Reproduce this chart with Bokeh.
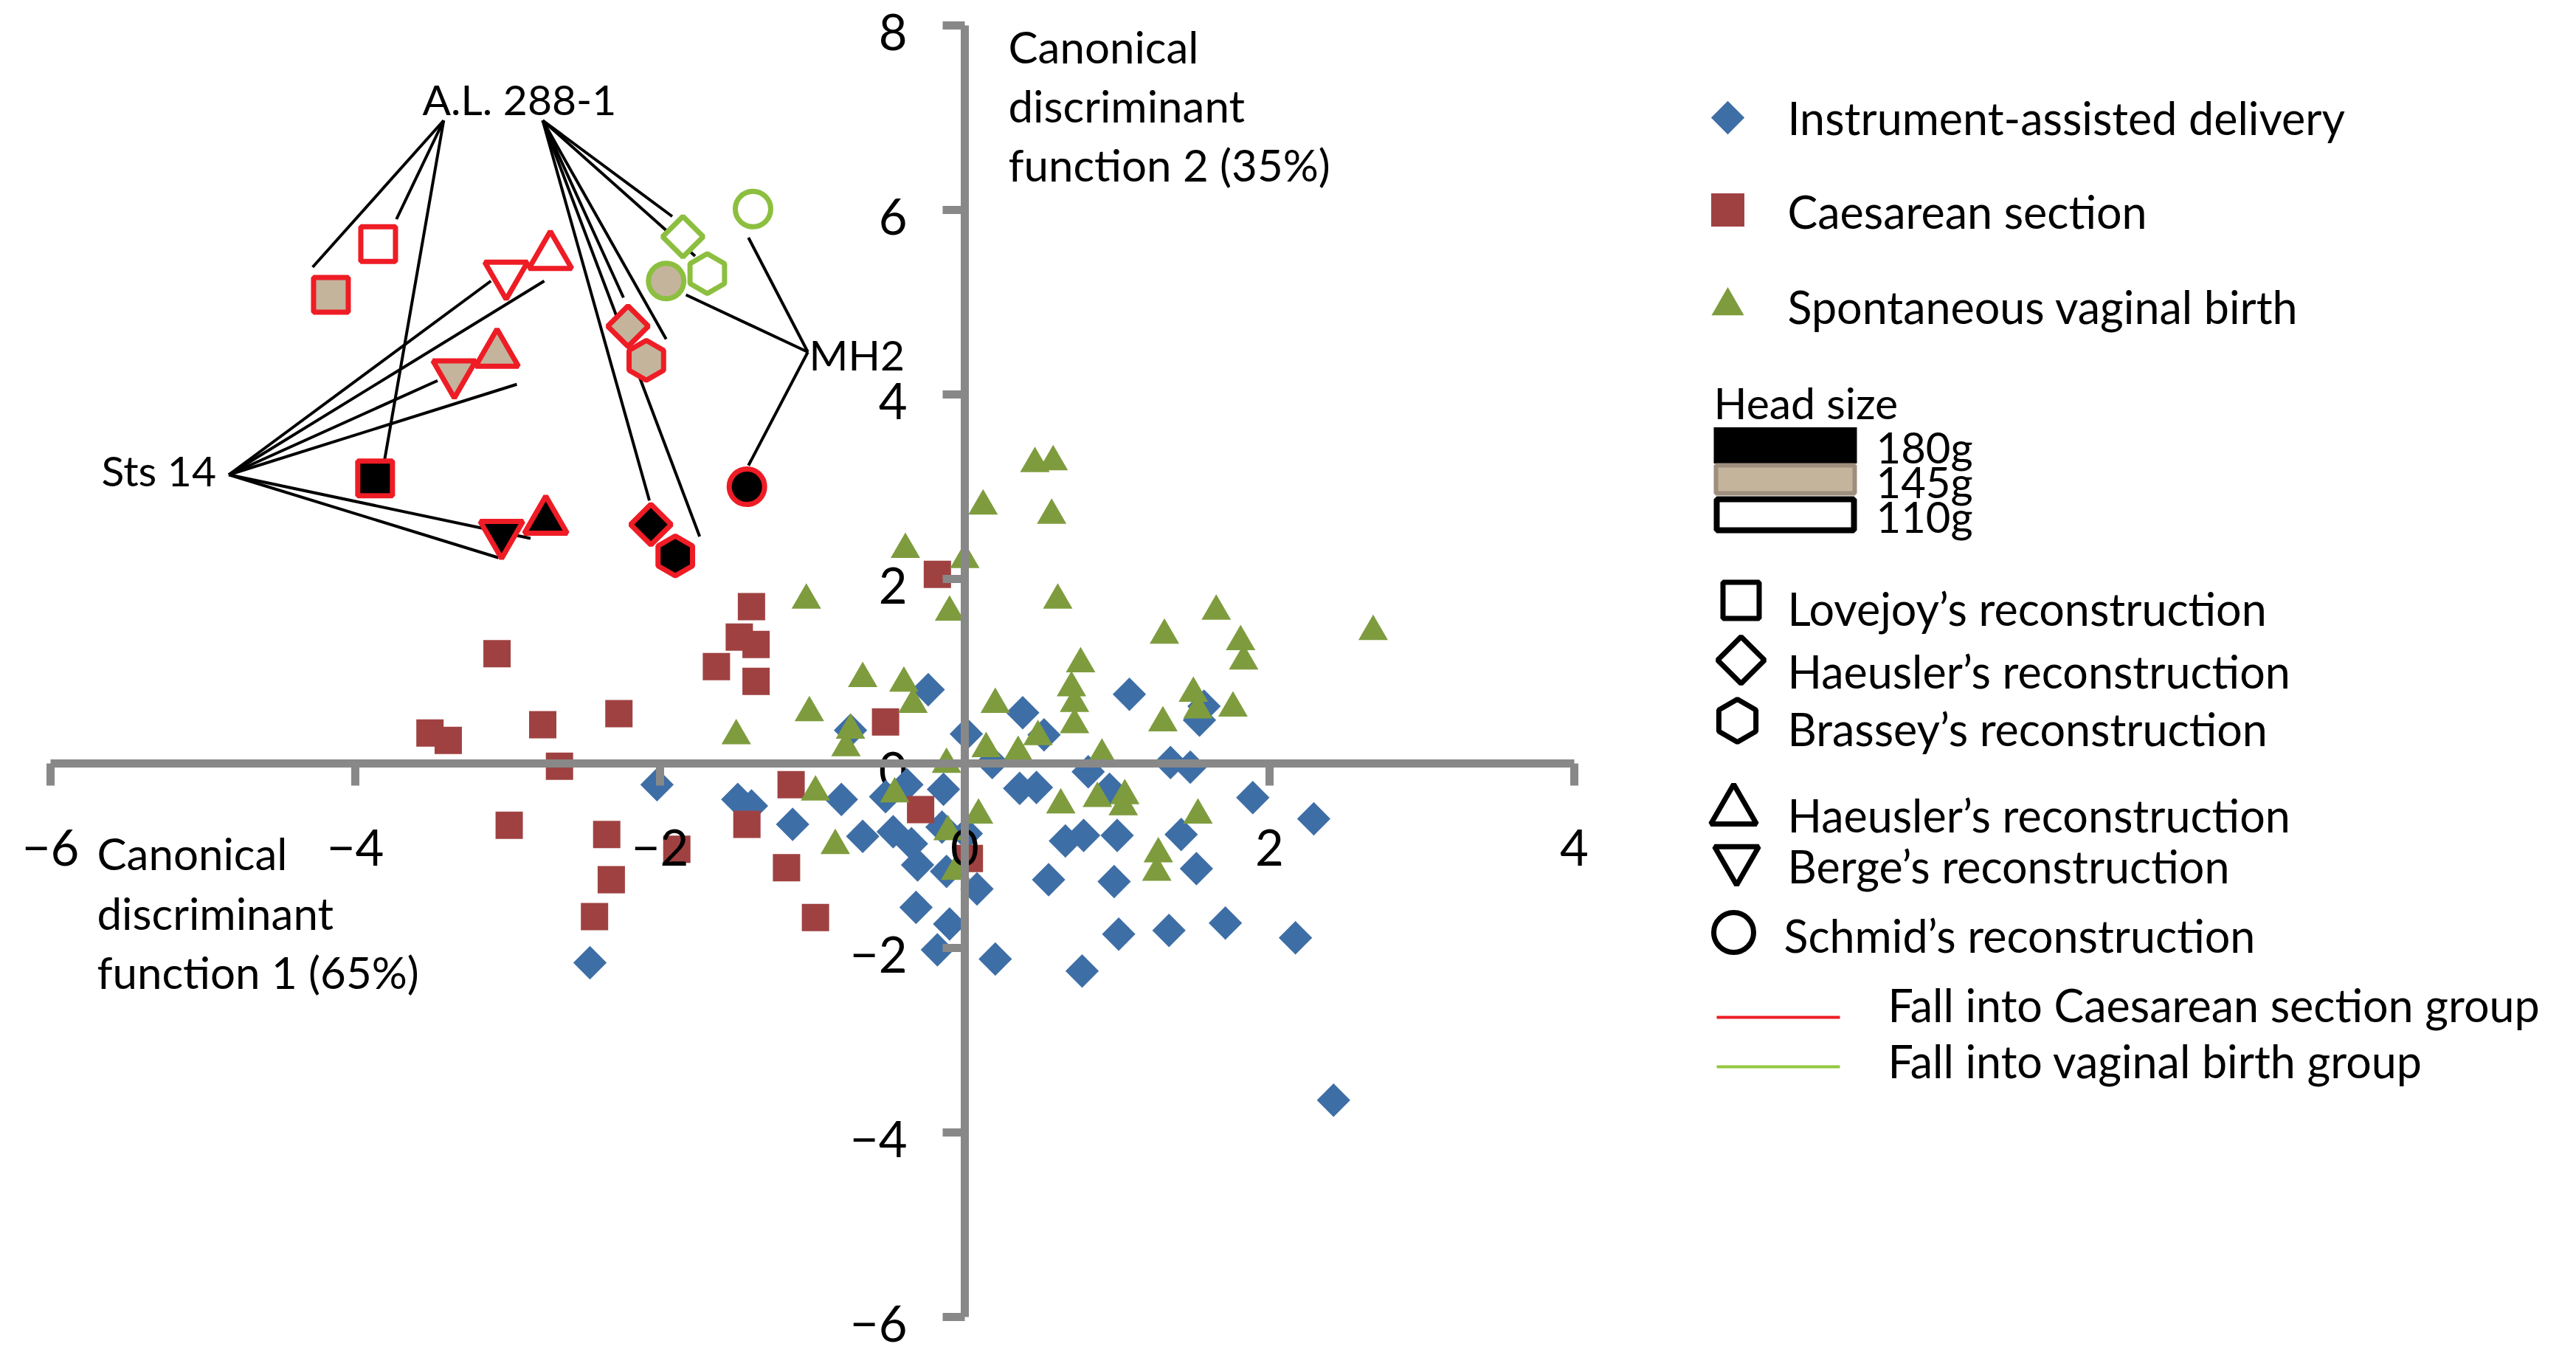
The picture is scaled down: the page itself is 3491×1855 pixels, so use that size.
from bokeh.plotting import figure
from bokeh.models import LinearAxis, FixedTicker, Range1d, ColumnDataSource
from bokeh.embed import file_html
from bokeh.resources import INLINE
from bokeh.core.properties import value
import math

# ---------------- data ----------------
# Instrument-assisted delivery (blue diamonds)
inst_x = [-2.02, -2.46, -0.24, -0.75, 0.01, 0.38, 0.52, 0.18, 0.36, 0.47, -0.14, -0.38, -0.52,
          -0.81, -1.49, -1.40, -1.13, -0.67, -0.47, -0.35, -0.31, -0.15, -0.12, 0.08, 0.01, 0.66,
          0.55, -0.32, -0.10, -0.18, 0.20, 1.08, 1.54, 1.57, 0.81, 1.35, 1.48, 0.95, 1.89, 2.29,
          0.78, 1.00, 1.42, 1.52, 0.98, 1.01, 1.34, 1.71, 2.17, 0.77, 2.42]
inst_y = [-0.23, -2.16, 0.80, 0.36, 0.32, 0.55, 0.31, 0.01, -0.27, -0.26, -0.28, -0.23, -0.36,
          -0.39, -0.39, -0.46, -0.66, -0.79, -0.74, -0.87, -1.10, -0.69, -1.17, -1.36, -0.76, -0.84,
          -1.26, -1.56, -1.74, -2.02, -2.12, 0.75, 0.47, 0.62, -0.09, 0.01, -0.04, -0.28, -0.37, -0.60,
          -0.78, -0.78, -0.77, -1.14, -1.28, -1.85, -1.81, -1.73, -1.89, -2.25, -3.65]

# Caesarean section (red squares)
caes_x = [-3.07, -3.51, -3.39, -2.77, -2.27, -2.66, -2.99, -2.35, -1.89, -2.32, -2.43, -0.18,
          -1.40, -1.48, -1.37, -1.63, -1.37, -0.52, -1.14, -1.43, -0.29, -1.17, -0.98, 0.03]
caes_y = [1.19, 0.33, 0.25, 0.42, 0.54, -0.03, -0.67, -0.77, -0.93, -1.26, -1.66, 2.05,
          1.70, 1.37, 1.29, 1.05, 0.89, 0.45, -0.23, -0.66, -0.50, -1.13, -1.67, -1.03]

# Spontaneous vaginal birth (green triangles)
spon_x = [0.46, 0.58, 0.12, 0.57, -0.39, 0.00, -1.04, -0.10, 0.61, -0.67, -0.40, -0.34, -1.02,
          -1.50, -0.75, -0.78, 0.20, 0.14, 0.35, 0.48, -0.12, -0.98, -0.46, 1.65, 1.31, 1.81,
          1.83, 2.68, 0.76, 0.70, 0.72, 0.72, 1.50, 1.53, 1.30, 1.76, 0.90, -0.85, -0.11, 0.09,
          -0.06, 0.63, 0.87, 1.05, 1.04, 1.53, 1.27, 1.26]
spon_y = [3.25, 3.27, 2.79, 2.69, 2.32, 2.21, 1.77, 1.64, 1.77, 0.92, 0.87, 0.64, 0.55,
          0.30, 0.36, 0.17, 0.64, 0.16, 0.12, 0.29, -0.01, -0.31, -0.33, 1.65, 1.39, 1.32,
          1.11, 1.43, 1.08, 0.82, 0.65, 0.42, 0.76, 0.58, 0.44, 0.60, 0.09, -0.89, -0.74, -0.56,
          -1.17, -0.45, -0.38, -0.35, -0.47, -0.56, -0.98, -1.18]

# Fossil pelvis reconstructions
spec_recon = (["Lovejoy"] * 3 + ["Haeusler AL"] * 3 + ["Brassey"] * 3 +
              ["Haeusler Sts"] * 3 + ["Berge"] * 3 + ["Schmid"] * 3)
spec_head = [110, 145, 180] * 6
spec_x = [-3.85, -4.16, -3.87, -1.85, -2.21, -2.06, -1.69, -2.09, -1.90,
          -2.72, -3.07, -2.75, -3.01, -3.35, -3.04, -1.39, -1.96, -1.43]
spec_y = [5.63, 5.08, 3.09, 5.71, 4.74, 2.59, 5.31, 4.37, 2.25,
          5.50, 4.44, 2.63, 5.30, 4.23, 2.49, 6.01, 5.23, 3.00]
spec_group = ["C", "C", "C", "V", "C", "C", "V", "C", "C",
              "C", "C", "C", "C", "C", "C", "V", "V", "C"]

# Leader lines from specimen labels (data units)
lead_x0 = [-3.42] * 3 + [-2.77] * 6 + [-4.83] * 6 + [-1.03] * 3
lead_y0 = [6.97] * 3 + [6.97] * 6 + [3.13] * 6 + [4.46] * 3
lead_x1 = [-4.28, -3.73, -3.81, -1.92, -1.77, -2.24, -1.96, -2.07, -1.74,
           -3.11, -2.76, -3.46, -2.94, -2.85, -3.06, -1.42, -1.83, -1.42]
lead_y1 = [5.38, 5.90, 3.27, 5.93, 5.50, 5.05, 4.60, 2.85, 2.46,
           5.23, 5.23, 4.15, 4.11, 2.44, 2.23, 5.70, 5.08, 3.23]

x_ticks = [-6, -4, -2, 0, 2, 4]
y_ticks = [-6, -4, -2, 0, 2, 4, 6, 8]

group_labels = ["Instrument-assisted delivery", "Caesarean section", "Spontaneous vaginal birth"]
head_labels = ["180g", "145g", "110g"]
shape_labels = ["Lovejoy\u2019s reconstruction", "Haeusler\u2019s reconstruction",
                "Brassey\u2019s reconstruction", "Haeusler\u2019s reconstruction",
                "Berge\u2019s reconstruction", "Schmid\u2019s reconstruction"]
line_labels = ["Fall into Caesarean section group", "Fall into vaginal birth group"]
xtitle_lines = ["Canonical", "discriminant", "function 1 (65%)"]
ytitle_lines = ["Canonical", "discriminant", "function 2 (35%)"]
spec_names = ["A.L. 288-1", "Sts 14", "MH2"]

# ---------------- styles / layout ----------------
FONT = value("Lato")
BLUE, RED, GREEN = "#3E6EA6", "#A04141", "#7E9C3E"
OUT_RED, OUT_GREEN = "#EE1C25", "#8CBF3F"
TAN = "#C4B49C"
AXIS = "#888888"
HEAD_FILL = {180: "#000000", 145: TAN, 110: "#FFFFFF"}
GROUP_LINE = {"C": OUT_RED, "V": OUT_GREEN}
RECON_STYLE = {  # marker, size, angle
    "Lovejoy": ("square", 47, 0.0),
    "Haeusler AL": ("square", 39, math.pi / 4),
    "Brassey": ("hex", 54, math.pi / 6),
    "Haeusler Sts": ("triangle", 58, 0.0),
    "Berge": ("inverted_triangle", 58, 0.0),
    "Schmid": ("circle", 48, 0.0),
}

W, H = 3475, 1839
PX_X0, PX_X1, PX_Y0, PX_Y1 = 8, 3483, 8, 1847   # reference pixel frame
X0_PX, XU_PX, Y0_PX, YU_PX = 1315.0, 206.5, 1042.0, 125.0
TY = 4  # text vertical nudge (px)

p = figure(width=W, height=H,
           x_range=Range1d((PX_X0 - X0_PX) / XU_PX, (PX_X1 - X0_PX) / XU_PX),
           y_range=Range1d((Y0_PX - PX_Y1) / YU_PX, (Y0_PX - PX_Y0) / YU_PX),
           x_axis_type=None, y_axis_type=None, output_backend="svg",
           toolbar_location=None, min_border=0, outline_line_color=None,
           background_fill_color="white", border_fill_color="white")
p.title.visible = False
p.extra_x_ranges = {"px": Range1d(PX_X0, PX_X1)}
p.extra_y_ranges = {"px": Range1d(PX_Y1, PX_Y0)}


def minus(v):
    return ("\u2212%d" % -v) if v < 0 else "%d" % v


xaxis = LinearAxis(fixed_location=0, bounds=(-6, 4), ticker=FixedTicker(ticks=x_ticks),
                   major_label_overrides={t: minus(t) for t in x_ticks})
yaxis = LinearAxis(fixed_location=0, bounds=(-6, 8), ticker=FixedTicker(ticks=y_ticks),
                   major_label_overrides={t: "" for t in y_ticks})
for ax in (xaxis, yaxis):
    ax.axis_line_color = AXIS
    ax.axis_line_width = 11
    ax.major_tick_line_color = AXIS
    ax.major_tick_line_width = 11
    ax.major_tick_out = 30
    ax.major_tick_in = 0
    ax.minor_tick_line_color = None
    ax.major_label_text_font = "Lato"
    ax.major_label_text_font_size = "67px"
    ax.major_label_text_color = "black"
xaxis.major_label_standoff = 59
p.add_layout(xaxis, "below")
p.add_layout(yaxis, "left")

# y tick labels, drawn next to the centred axis
p.text(x=[0] * len(y_ticks), y=[t - 9 / YU_PX for t in y_ticks],
       text=[minus(t) for t in y_ticks], x_offset=-78,
       text_font=FONT, text_font_size=value("67px"), text_color="black",
       text_align="right", text_baseline="middle")

# data points
p.scatter(inst_x, inst_y, marker="square", size=32, angle=math.pi / 4,
          fill_color=BLUE, line_color=None)
p.scatter(caes_x, caes_y, marker="square", size=37, fill_color=RED, line_color=None)
p.scatter(spon_x, spon_y, marker="triangle", size=40, fill_color=GREEN, line_color=None)

# leader lines + specimens
p.segment(lead_x0, lead_y0, lead_x1, lead_y1, line_color="black", line_width=4)
spec_src = ColumnDataSource(dict(
    x=spec_x, y=spec_y,
    marker=[RECON_STYLE[r][0] for r in spec_recon],
    size=[RECON_STYLE[r][1] for r in spec_recon],
    angle=[RECON_STYLE[r][2] for r in spec_recon],
    fill=[HEAD_FILL[h] for h in spec_head],
    line=[GROUP_LINE[g] for g in spec_group],
))
p.scatter("x", "y", source=spec_src, marker="marker", size="size", angle="angle",
          fill_color="fill", line_color="line", line_width=7)

PX = dict(x_range_name="px", y_range_name="px")


def texts(xs, ys, labels, size, align="left"):
    p.text(xs, [y + TY for y in ys], text=labels, text_font=FONT,
           text_font_size=value(size), text_color="black", text_align=align,
           text_baseline="middle", **PX)


# specimen labels
texts([580, 145, 1104], [137, 640, 483], spec_names, "57px")

# axis titles
texts([1374] * 3, [66, 146, 226], ytitle_lines, "60px")
texts([139] * 3, [1159, 1240, 1320], xtitle_lines, "60px")

# ---- legend: groups ----
p.scatter([2349], [167], marker="square", size=32, angle=math.pi / 4,
          fill_color=BLUE, line_color=None, **PX)
p.scatter([2349], [292], marker="square", size=45, fill_color=RED, line_color=None, **PX)
p.scatter([2349], [422], marker="triangle", size=44, fill_color=GREEN, line_color=None, **PX)
texts([2430] * 3, [163, 290, 419], group_labels, "61px")

# ---- legend: head size ----
texts([2330], [549], ["Head size"], "59px")
p.rect([2427], [611], width=194, height=49, fill_color="black", line_color=None, **PX)
p.rect([2427], [657], width=188, height=38, fill_color=TAN, line_color="#9E8E7E",
       line_width=6, **PX)
p.rect([2427], [705], width=186, height=42, fill_color="white", line_color="black",
       line_width=8, **PX)
texts([2550] * 3, [609, 656, 703], head_labels, "58px")

# ---- legend: reconstructions ----
shape_marker = ["square", "square", "hex", "triangle", "inverted_triangle", "circle"]
shape_size = [49, 45, 58, 62, 60, 54]
shape_angle = [0.0, math.pi / 4, math.pi / 6, 0.0, 0.0, 0.0]
shape_px = [2367, 2367, 2362, 2357, 2361, 2357]
shape_py = [821, 902, 984, 1106, 1172, 1271]
p.scatter(shape_px, shape_py, marker=shape_marker, size=shape_size, angle=shape_angle,
          fill_color="white", line_color="black", line_width=7, **PX)
texts([2430, 2430, 2430, 2430, 2430, 2425], [828, 913, 991, 1108, 1177, 1271],
      shape_labels, "61px")

# ---- legend: classification lines ----
p.segment([2334, 2334], [1386, 1453], [2501, 2501], [1386, 1453],
          line_color=[OUT_RED, "#92C83E"], line_width=4, **PX)
texts([2566, 2566], [1365, 1441], line_labels, "61px")

open("out.html", "w").write(file_html(p, INLINE))
